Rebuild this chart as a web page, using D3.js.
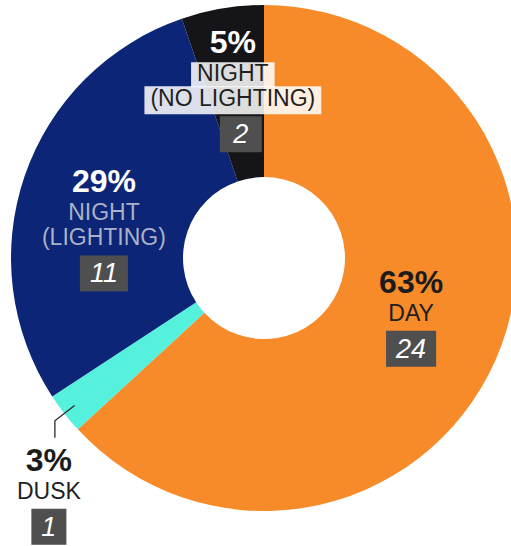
<!DOCTYPE html>
<html>
<head>
<meta charset="utf-8">
<script src="https://cdn.jsdelivr.net/npm/d3@7"></script>
<style>
  html, body { margin: 0; padding: 0; background: #fff; }
  svg { display: block; font-family: "Liberation Sans", Arial, Helvetica, sans-serif; }
</style>
</head>
<body>
<svg id="chart" width="511" height="546"></svg>
<script>
// Collisions by light condition (clockwise from 12 o'clock)
const categories = ["DAY", "DUSK", "NIGHT (LIGHTING)", "NIGHT (NO LIGHTING)"];
const labelLines = [["DAY"], ["DUSK"], ["NIGHT", "(LIGHTING)"], ["NIGHT", "(NO LIGHTING)"]];
const counts = [24, 1, 11, 2];
const colors = ["#f78b2a", "#55f1dc", "#0c2576", "#141419"];

const W = 511, H = 546;
const cx = 264, cy = 258;
const outerR = 253, innerR = 81;

const total = d3.sum(counts);
const data = categories.map((c, i) => ({ name: c, lines: labelLines[i], value: counts[i], color: colors[i] }));

const svg = d3.select("#chart");
const g = svg.append("g").attr("transform", `translate(${cx},${cy})`);

const pie = d3.pie().sort(null).value(d => d.value).startAngle(0).endAngle(2 * Math.PI);
const arcs = pie(data);
const arc = d3.arc().innerRadius(innerR).outerRadius(outerR);

g.selectAll("path.slice")
  .data(arcs)
  .join("path")
  .attr("class", "slice")
  .attr("d", arc)
  .attr("fill", d => d.data.color);

const pct = d => Math.round(d.data.value / total * 100) + "%";
const mid = d => (d.startAngle + d.endAngle) / 2;
const polar = (a, r) => [Math.sin(a) * r, -Math.cos(a) * r];

// label styles per slice
const style = {
  "DAY":                 { pct: "#1b1b1b", txt: "#1f1f1f", halo: false, nudge: [-4, -6], boxDx: 0, boxMin: 36 },
  "NIGHT (LIGHTING)":    { pct: "#ffffff", txt: "#abb1c6", halo: false, nudge: [-4, 26], boxDx: 0, boxMin: 36 },
  "NIGHT (NO LIGHTING)": { pct: "#ffffff", txt: "#1f1f1f", halo: true,  nudge: [-4, -4], boxDx: 8, boxMin: 42 },
  "DUSK":                { pct: "#1b1b1b", txt: "#1f1f1f", halo: false, nudge: [0, 0],   boxDx: 0, boxMin: 35 }
};

const labelR = 165;
const pctSize = 32, txtSize = 23, numSize = 27;
const lineGap = 25, firstGap = 28, boxGap = 10, boxH = 36;

function drawBlock(parent, d, x, yBaseline, st) {
  const blk = parent.append("g");
  blk.append("text")
    .attr("x", x).attr("y", yBaseline)
    .attr("text-anchor", "middle")
    .attr("font-size", pctSize).attr("font-weight", 700)
    .attr("fill", st.pct)
    .text(pct(d));

  let y = yBaseline + firstGap;
  const lineNodes = [];
  d.data.lines.forEach((ln, i) => {
    if (i > 0) y += lineGap;
    const t = blk.append("text")
      .attr("x", x).attr("y", y)
      .attr("text-anchor", "middle")
      .attr("font-size", txtSize)
      .attr("fill", st.txt)
      .text(ln);
    lineNodes.push(t);
  });

  if (st.halo) {
    lineNodes.forEach((t, i) => {
      const b = t.node().getBBox();
      blk.insert("rect", "text")
        .attr("x", b.x - 6).attr("width", b.width + 12)
        .attr("y", i === 0 ? b.y + 2 : b.y + 1)
        .attr("height", i === 0 ? b.height - 1 : b.height + 2)
        .attr("fill", "#ffffff").attr("fill-opacity", 0.86);
    });
    blk.selectAll("rect").lower();
  }

  // count badge
  const boxTop = y + boxGap;
  const bx = x + st.boxDx;
  const num = blk.append("text")
    .attr("x", bx).attr("y", boxTop + 27)
    .attr("text-anchor", "middle")
    .attr("font-size", numSize).attr("font-style", "italic")
    .attr("fill", "#ffffff")
    .text(d.data.value);
  const w = Math.max(st.boxMin, num.node().getComputedTextLength() + 20);
  blk.insert("rect", "text:last-of-type")
    .attr("x", bx - w / 2).attr("y", boxTop)
    .attr("width", w).attr("height", boxH)
    .attr("fill", "#4f4f4f");
  num.raise();
  return boxTop + boxH;
}

const labels = svg.append("g");

arcs.forEach(d => {
  const st = style[d.data.name];
  if (d.data.name === "DUSK") {
    // thin slice: label outside with a leader line
    const a = mid(d);
    const p1 = polar(a, outerR - 13);
    const p2 = polar(a, outerR + 12);
    const p3 = [p2[0], p2[1] + 17];
    labels.append("polyline")
      .attr("points", [p1, p2, p3].map(p => [p[0] + cx, p[1] + cy].join(",")).join(" "))
      .attr("fill", "none").attr("stroke", "#2a2a2a").attr("stroke-width", 1.3);
    drawBlock(labels, d, p3[0] + cx - 6, p3[1] + cy + 33, st);
    return;
  }
  const c = polar(mid(d), labelR);
  const nLines = d.data.lines.length;
  const blockTop = -23;
  const blockBottom = firstGap + (nLines - 1) * lineGap + boxGap + boxH;
  const offset = (blockTop + blockBottom) / 2;
  const x = c[0] + cx + st.nudge[0];
  const y = c[1] + cy - offset + st.nudge[1];
  drawBlock(labels, d, x, y, st);
});
</script>
</body>
</html>
